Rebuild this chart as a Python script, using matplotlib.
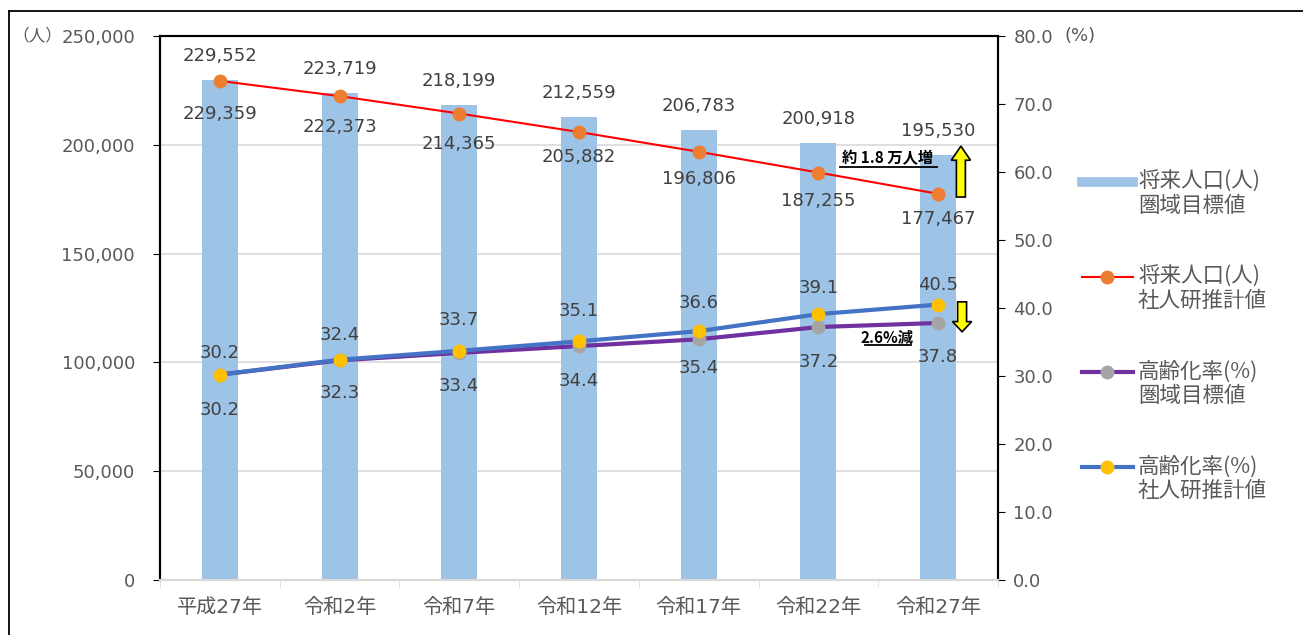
import numpy as np
import matplotlib.pyplot as plt
from matplotlib.patches import FancyArrow
from matplotlib.lines import Line2D

plt.rcParams['font.family'] = ['DejaVu Sans', 'Noto Sans CJK JP']

years = ['平成27年', '令和2年', '令和7年', '令和12年', '令和17年', '令和22年', '令和27年']
pop_target = [229552, 223719, 218199, 212559, 206783, 200918, 195530]
pop_ipss = [229359, 222373, 214365, 205882, 196806, 187255, 177467]
aging_target = [30.2, 32.3, 33.4, 34.4, 35.4, 37.2, 37.8]
aging_ipss = [30.2, 32.4, 33.7, 35.1, 36.6, 39.1, 40.5]

# label offsets in pixels (labels were hand placed in the original)
pop_lo_off = [33, 31, 30, 25, 27, 28, 25]
pct_hi_off = [22, 25, 31, 30, 28, 26, 20]
pct_lo_off = [35, 33, 33, 35, 29, 35, 34]

txt = '#595959'
lab = '#404040'
fs = 13
W, H = 1303, 635

fig = plt.figure(figsize=(13.03, 6.35), dpi=100)
ax = fig.add_axes([160/W, 1-580/H, (998-160)/W, (580-36)/H])
ax2 = ax.twinx()

x = np.arange(len(years))
ax.bar(x, pop_target, width=0.3, color='#9dc3e6', zorder=2)
ax.plot(x, pop_ipss, color='#ff0000', lw=1.5, marker='o', ms=9,
        mfc='#ed7d31', mec='#ed7d31', zorder=4)

ax2.plot(x, aging_target, color='#7030a0', lw=3, marker='o', ms=9,
         mfc='#a5a5a5', mec='#a5a5a5', zorder=4)
ax2.plot(x, aging_ipss, color='#4472c4', lw=3, marker='o', ms=9,
         mfc='#ffc000', mec='#ffc000', zorder=5)

ax.set_xlim(-0.5, 6.5)
ax.set_ylim(0, 250000)
ax2.set_ylim(0, 80)
ax.set_yticks(np.arange(0, 250001, 50000))
ax2.set_yticks(np.arange(0, 80.1, 10))
ax.set_yticklabels(['0'] + [f'{v:,}' for v in range(50000, 250001, 50000)])
ax2.set_yticklabels([f'{v:.1f}' for v in np.arange(0, 80.1, 10)])
ax.grid(axis='y', color='#d9d9d9', lw=1.2, zorder=0)
ax.set_axisbelow(True)

ax.set_xticks(x)
ax.set_xticklabels(years, fontsize=14.5, color=txt)
ax.set_xticks(np.arange(-0.5, 7, 1), minor=True)
ax.tick_params(axis='x', which='major', length=0, pad=13)
ax.tick_params(axis='x', which='minor', length=5, color='#d9d9d9')
ax.tick_params(axis='y', labelsize=fs, labelcolor=txt, length=5, color='black', pad=13)
ax2.tick_params(axis='y', labelsize=fs, labelcolor=txt, length=5, color='black', pad=6)

for a in (ax, ax2):
    for s in a.spines.values():
        s.set_color('black')
        s.set_linewidth(1.5)
    a.spines['bottom'].set_color('#d9d9d9')

# unit labels
fig.text(12/W, 1-36/H, '（人）', fontsize=12, color=txt, va='center',
         family=['Noto Sans CJK JP'])
fig.text(1064/W, 1-36/H, '(%)', fontsize=fs, color=txt, va='center')

# data labels
for i in range(len(years)):
    ax.annotate(f'{pop_target[i]:,}', (x[i], pop_target[i]), xytext=(0, 24),
                textcoords='offset pixels', ha='center', va='center', fontsize=fs, color=lab)
    ax.annotate(f'{pop_ipss[i]:,}', (x[i], pop_ipss[i]), xytext=(0, -pop_lo_off[i]),
                textcoords='offset pixels', ha='center', va='center', fontsize=fs, color=lab)
    ax2.annotate(f'{aging_ipss[i]:.1f}', (x[i], aging_ipss[i]), xytext=(0, pct_hi_off[i]),
                 textcoords='offset pixels', ha='center', va='center', fontsize=fs, color=lab)
    ax2.annotate(f'{aging_target[i]:.1f}', (x[i], aging_target[i]), xytext=(0, -pct_lo_off[i]),
                 textcoords='offset pixels', ha='center', va='center', fontsize=fs, color=lab)

# annotations with arrows
ax.text(5.58, 194000, '約 1.8 万人増', fontsize=11, fontweight='bold', color='black',
        ha='center', va='center', family=['Noto Sans CJK JP'], zorder=7)
ax.plot([5.18, 5.99], [190000, 190000], color='black', lw=1.3, clip_on=False, zorder=7)
ax.add_patch(FancyArrow(6.19, 176000, 0, 23400, width=0.075, head_width=0.16,
                        head_length=6500, fc='#ffff00', ec='black', lw=1.2, zorder=6,
                        length_includes_head=True))
ax2.text(5.57, 35.6, '2.6%減', fontsize=11, fontweight='bold', color='black',
         ha='center', va='center', family=['Noto Sans CJK JP'], zorder=7)
ax2.plot([5.39, 5.77], [34.5, 34.5], color='black', lw=1.3, clip_on=False, zorder=7)
ax2.add_patch(FancyArrow(6.2, 40.9, 0, -4.4, width=0.075, head_width=0.16,
                         head_length=1.5, fc='#ffff00', ec='black', lw=1.2, zorder=6,
                         length_includes_head=True))

# legend drawn by hand
handles = [
    dict(color='#9dc3e6', lw=7, marker=None, mfc=None),
    dict(color='#ff0000', lw=1.5, marker='o', mfc='#ed7d31'),
    dict(color='#7030a0', lw=3, marker='o', mfc='#a5a5a5'),
    dict(color='#4472c4', lw=3, marker='o', mfc='#ffc000'),
]
labels = [('将来人口(人)', '圏域目標値'), ('将来人口(人)', '社人研推計値'),
          ('高齢化率(%)', '圏域目標値'), ('高齢化率(%)', '社人研推計値')]
for i, (h, (l1, l2)) in enumerate(zip(handles, labels)):
    yy = 1 - (182 + 95*i)/H
    fig.add_artist(Line2D([1082/W, 1133/W], [yy, yy], color=h['color'], lw=h['lw'],
                          transform=fig.transFigure))
    if h['marker']:
        fig.add_artist(Line2D([1107/W], [yy], marker='o', ms=9, mfc=h['mfc'], mec=h['mfc'],
                              transform=fig.transFigure))
    fig.text(1138/W, yy, l1, fontsize=15.5, color=txt, va='center',
             family=['Noto Sans CJK JP'])
    fig.text(1138/W, yy - 24/H, l2, fontsize=15.5, color=txt, va='center',
             family=['Noto Sans CJK JP'])

# outer frame (top and left)
fig.add_artist(Line2D([9/W, 1], [1-11/H, 1-11/H], color='black', lw=1.3,
                      transform=fig.transFigure))
fig.add_artist(Line2D([9/W, 9/W], [0, 1-11/H], color='black', lw=1.3,
                      transform=fig.transFigure))

fig.savefig('out.png', dpi=100)
